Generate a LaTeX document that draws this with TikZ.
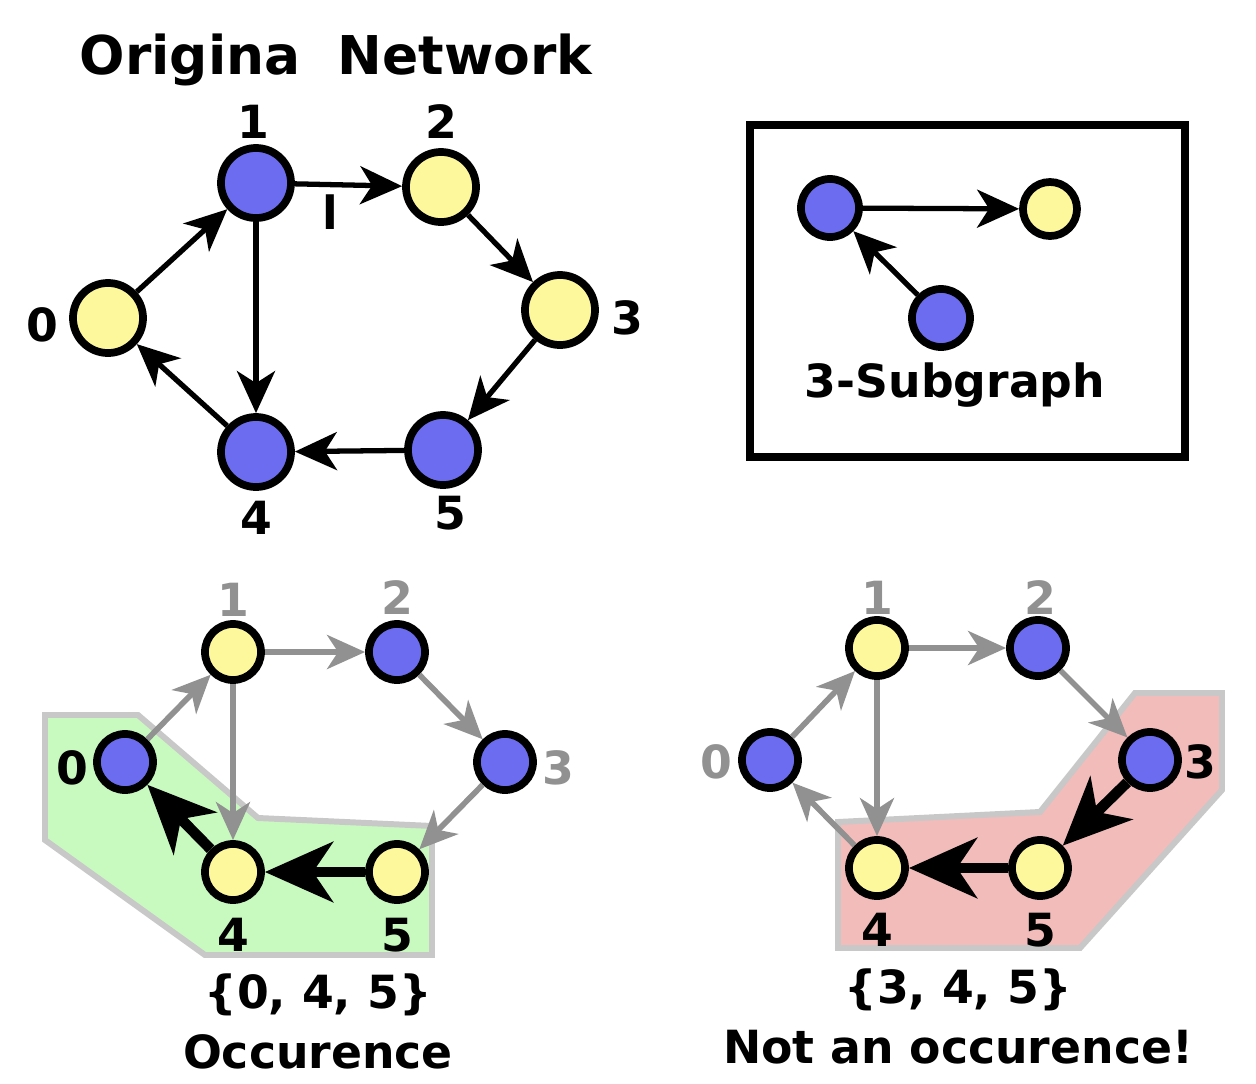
\documentclass[tikz,border=0pt]{standalone}
\usepackage{fontspec}
\setmainfont{DejaVu Sans}
\usepackage{tikz}
\usetikzlibrary{arrows.meta, positioning}

\definecolor{nodeblue}{RGB}{108,108,240}
\definecolor{nodeyellow}{RGB}{253,248,155}
\definecolor{edgegray}{RGB}{145,145,145}
\definecolor{hullgreen}{RGB}{200,250,192}
\definecolor{hullred}{RGB}{242,188,186}
\definecolor{hullline}{RGB}{200,200,200}

\begin{document}
\begin{tikzpicture}[
  x=0.01cm, y=-0.01cm,
  every node/.style={font=\bfseries},
  vtx/.style={circle, draw, line width=2.2pt, inner sep=0pt},
  bigv/.style={vtx, minimum size=0.7cm},
  smallv/.style={vtx, minimum size=0.56cm},
  bnode/.style={fill=nodeblue},
  ynode/.style={fill=nodeyellow},
  num/.style={font=\fontsize{13}{13}\selectfont\bfseries},
  gnum/.style={num, text=edgegray},
  caption/.style={font=\fontsize{13}{13}\selectfont\bfseries},
  arr/.style={-{Stealth[length=0.42cm, width=0.38cm, inset=0.12cm]}, line width=1.5pt},
  ghost/.style={-{Stealth[length=0.38cm, width=0.34cm, inset=0.11cm]}, line width=1.6pt, draw=edgegray},
  hit/.style={-{Stealth[length=0.68cm, width=0.6cm, inset=0.2cm]}, line width=3pt},
  hull/.style={draw=hullline, line width=1.7pt},
]
  \useasboundingbox (0,0) rectangle (1256,1084);

  % original network
  \node[font=\fontsize{15.2}{15.2}\selectfont\bfseries] (title) at (336,60) {Origina\ \ Network};
  \node[bigv, ynode] (a0) at (108,318) {};
  \node[bigv, bnode] (a1) at (256,183) {};
  \node[bigv, ynode] (a2) at (441,187) {};
  \node[bigv, ynode] (a3) at (560,310) {};
  \node[bigv, bnode] (a4) at (256,452) {};
  \node[bigv, bnode] (a5) at (443,450) {};
  \node[num] (la0) at (42,325)  {0};
  \node[num] (la1) at (253,122) {1};
  \node[num] (la2) at (441,122) {2};
  \node[num] (la3) at (627,318) {3};
  \node[num] (la4) at (256,518) {4};
  \node[num] (la5) at (450,513) {5};
  \node[num] (stray) at (330,212) {l};

  \draw[arr] (a0) -- (a1);
  \draw[arr] (a1) -- (a2);
  \draw[arr] (a2) -- (a3);
  \draw[arr] (a3) -- (a5);
  \draw[arr] (a5) -- (a4);
  \draw[arr] (a4) -- (a0);
  \draw[arr] (a1) -- (a4);

  % the 3-subgraph
  \draw[line width=2pt] (750,125) rectangle (1185,457);
  \node[vtx, minimum size=0.58cm, bnode] (s1) at (830,208) {};
  \node[vtx, minimum size=0.54cm, ynode] (s2) at (1050,209) {};
  \node[vtx, minimum size=0.58cm, bnode] (s3) at (941,318) {};
  \node[caption] (sub) at (955,385) {3-Subgraph};
  \draw[arr] (s1) -- (s2);
  \draw[arr] (s3) -- (s1);

  % occurence
  \draw[hull, fill=hullgreen] (45,715) -- (138,715) -- (258,818) -- (432,826)
    -- (432,955) -- (205,955) -- (45,840) -- cycle;
  \node[smallv, bnode] (b0) at (125,762) {};
  \node[smallv, ynode] (b1) at (233,652) {};
  \node[smallv, bnode] (b2) at (397,652) {};
  \node[smallv, bnode] (b3) at (505,762) {};
  \node[smallv, ynode] (b4) at (233,872) {};
  \node[smallv, ynode] (b5) at (397,872) {};
  \node[num]  (lb0) at (72,768)  {0};
  \node[gnum] (lb1) at (233,600) {1};
  \node[gnum] (lb2) at (397,598) {2};
  \node[gnum] (lb3) at (558,768) {3};
  \node[num]  (lb4) at (233,935) {4};
  \node[num]  (lb5) at (397,935) {5};

  \draw[ghost] (b0) -- (b1);
  \draw[ghost] (b1) -- (b2);
  \draw[ghost] (b2) -- (b3);
  \draw[ghost] (b3) -- (b5);
  \draw[ghost] (b1) -- (b4);
  \draw[hit] (b4) -- (b0);
  \draw[hit] (b5) -- (b4);

  \node[caption] (setb) at (318,995)  {\{0, 4, 5\}};
  \node[caption] (occ)  at (318,1052) {Occurence};

  % not an occurence
  \draw[hull, fill=hullred] (838,822) -- (1040,812) -- (1135,693) -- (1222,693)
    -- (1222,790) -- (1080,948) -- (838,948) -- cycle;
  \node[smallv, bnode] (c0) at (770,760) {};
  \node[smallv, ynode] (c1) at (877,648) {};
  \node[smallv, bnode] (c2) at (1038,648) {};
  \node[smallv, bnode] (c3) at (1150,760) {};
  \node[smallv, ynode] (c4) at (877,868) {};
  \node[smallv, ynode] (c5) at (1040,868) {};
  \node[gnum] (lc0) at (716,762)  {0};
  \node[gnum] (lc1) at (877,598)  {1};
  \node[gnum] (lc2) at (1040,598) {2};
  \node[num]  (lc3) at (1200,762) {3};
  \node[num]  (lc4) at (877,930)  {4};
  \node[num]  (lc5) at (1040,930) {5};

  \draw[ghost] (c0) -- (c1);
  \draw[ghost] (c1) -- (c2);
  \draw[ghost] (c2) -- (c3);
  \draw[ghost] (c1) -- (c4);
  \draw[ghost] (c4) -- (c0);
  \draw[hit] (c3) -- (c5);
  \draw[hit] (c5) -- (c4);

  \node[caption] (setc) at (958,990)  {\{3, 4, 5\}};
  \node[caption] (nocc) at (958,1047) {Not an occurence!};
\end{tikzpicture}
\end{document}
